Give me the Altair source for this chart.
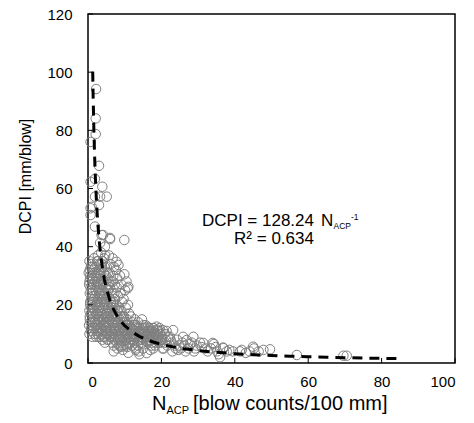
import altair as alt
import pandas as pd

# ---- data ----
nacp = [
    0.4, 0.6, 0.5, 0.8, 0.4, 0.7, 0.5, 0.9, 0.6, 0.4, 0.8, 0.7, 0.9, 1.1, 1.3, 0.3, 1.2, 1.0, 0.7, 0.7, 0.7, 0.5, 1.2, 1.0, 0.7, 0.6, 1.4,
    1.6, 2.0, 1.8, 2.3, 1.7, 2.1, 1.9, 2.4, 1.6, 2.2, 1.8, 2.0, 2.3, 1.7, 2.1, 1.9, 2.4, 2.1, 2.1, 1.9, 1.9, 1.9, 2.2, 1.6, 2.2, 1.9, 2.4, 1.5,
    2.7, 3.1, 2.9, 3.3, 2.6, 3.0, 3.4, 2.8, 3.2, 2.7, 3.1, 2.9, 3.3, 2.6, 3.0, 3.0, 3.0, 3.3, 2.8, 3.2, 2.6, 3.4, 2.9, 3.1, 2.7, 3.3,
    3.6, 4.0, 3.8, 4.3, 3.7, 4.1, 3.9, 4.4, 3.6, 4.2, 3.8, 4.0, 4.3, 3.7, 4.1, 3.9, 3.9, 3.7, 4.1, 4.6, 4.4, 3.6, 4.2, 3.8, 4.4, 4.0, 3.6,
    4.7, 5.1, 4.9, 5.3, 4.6, 5.0, 5.4, 4.8, 5.2, 4.7, 5.1, 4.9, 5.3, 4.6, 5.0, 5.4, 4.8, 5.2, 4.6, 5.0, 5.1,
    6.0, 5.7, 6.1, 5.9, 6.3, 5.6, 6.0, 6.4, 5.8, 6.2, 5.7, 6.1, 5.9, 6.3, 5.6, 6.0, 6.4, 5.8, 6.2, 6.0,
    6.7, 7.1, 6.9, 7.3, 6.6, 7.0, 7.4, 6.8, 7.2, 6.7, 7.1, 6.9, 7.3, 6.6, 7.0, 6.7, 7.3, 6.9, 7.1,
    7.8, 8.3, 7.6, 8.0, 7.8, 8.2, 7.7, 8.1, 7.9, 8.3, 7.6, 8.0, 8.2, 7.8, 8.4, 7.7, 8.1,
    8.7, 9.1, 8.9, 9.3, 8.6, 9.0, 9.4, 8.8, 9.2, 8.7, 9.1, 8.9, 9.3, 8.6, 9.0,
    9.9, 9.9, 10.5, 10.1, 9.7, 10.3, 9.8, 10.2, 9.6, 10.4, 10.0, 9.7, 10.3, 9.9, 10.1,
    10.8, 11.0, 10.9, 11.2, 10.7, 11.1, 10.6, 11.3, 10.9, 11.4, 11.0, 10.7,
    11.7, 12.1, 11.9, 12.3, 11.6, 12.0, 12.4, 11.8, 12.2,
    12.7, 13.1, 12.9, 13.3, 12.6, 13.0, 13.4, 12.8,
    13.7, 14.1, 13.9, 14.3, 13.6, 14.0, 14.4, 13.8,
    14.7, 15.1, 14.9, 15.3, 14.6, 15.0, 15.4, 14.8,
    15.7, 16.1, 15.9, 16.3, 15.6, 16.0, 16.4, 16.0,
    16.7, 17.1, 16.9, 17.3, 16.6, 17.0, 17.4,
    17.7, 18.1, 17.9, 18.3, 17.6, 18.0, 18.4, 17.8,
    18.7, 19.1, 18.9, 19.3, 18.6, 19.0,
    19.7, 20.1, 19.9, 20.4, 19.6, 20.0, 20.3,
    20.8, 21.2, 21.6, 21.0, 21.8, 20.6, 21.4,
    22.3, 23.2, 22.8, 23.6, 22.5, 23.9, 23.0,
    24.3, 24.8, 25.3, 25.7, 24.6, 25.9,
    26.3, 26.9, 27.4, 27.8, 26.6,
    28.7, 28.3, 29.2, 29.6, 28.9,
    30.5, 31.4, 32.0, 32.6, 31.0,
    34.0, 34.3, 33.5, 35.2, 34.8, 35.6,
    36.9, 36.8, 36.0, 37.8, 38.5, 39.5,
    41.4, 41.9, 43.0, 45.0, 45.2, 44.0,
    47.8, 49.6, 46.5,
    56.9, 69.6, 70.5,
]
dcpi = [
    28, 30, 32, 33, 35, 26, 24, 22, 20, 18, 17, 14, 12, 31, 29, 27, 25, 53.7, 50.9, 62.3, 76, 16, 19, 34, 53.2, 21, 23,
    36, 33, 31, 29, 27, 25, 23, 21, 19, 17, 15, 13, 11, 10, 30, 28, 26, 84.1, 78.7, 63.3, 57.2, 46.9, 94.2, 22, 20, 14, 12, 32,
    37, 34, 32, 30, 28, 26, 24, 22, 20, 18, 16, 14, 12, 10, 9, 67.8, 54.3, 41.3, 35, 31, 27, 23, 19, 15, 11, 57.2,
    38, 35, 33, 31, 29, 27, 25, 23, 21, 19, 17, 15, 13, 11, 9, 8, 60.6, 44, 44, 40, 36, 32, 28, 24, 20, 16, 12,
    37, 33, 30, 27, 24, 22, 20, 18, 16, 14, 12, 10, 8, 7, 29, 25, 21, 17, 13, 11, 57.2,
    42.6, 37, 34, 31, 28, 25, 22, 20, 18, 16, 14, 12, 10, 9, 8, 26, 19, 15, 11, 43,
    36, 33, 30, 27, 24, 21, 19, 17, 15, 13, 11, 9, 8, 7, 6, 28, 22, 16, 12,
    34.8, 33.7, 32, 29, 26, 23, 20, 18, 16, 14, 12, 10, 8, 7, 6, 15, 11,
    30, 27, 24, 21, 18, 16, 14, 12, 10, 9, 7, 6, 13, 11, 5.5,
    42.3, 30.5, 28, 25, 22, 19, 16, 14, 12, 10, 8, 6, 13, 11, 9,
    25.7, 26.2, 20, 17, 15, 13, 11, 9, 7, 12, 10, 5.5,
    16, 14, 12, 10, 8, 6, 13, 11, 9,
    15, 13, 11, 9, 7, 5, 12, 10,
    14, 12, 10, 8, 6, 11, 9, 4,
    15, 13, 11, 9, 7, 12, 10, 8,
    13, 11, 9, 7, 12, 10, 8, 3.4,
    12, 10, 8, 6, 11, 9, 7,
    12, 10, 8, 6, 11, 9, 7, 5,
    12.5, 11, 9, 7, 10, 8,
    11, 9, 7, 11.3, 10, 8, 5,
    10, 8, 6, 7, 9, 5, 11,
    9, 11.3, 7, 6, 8, 5, 4,
    8, 6, 5, 7, 4.5, 9,
    6, 7.9, 5, 6.5, 4,
    9, 7, 5, 6, 4,
    7, 6.9, 5, 4, 5.5,
    6.9, 6.5, 5, 4, 5.5, 3,
    5.1, 5.3, 2, 4, 4.5, 4,
    4, 4.5, 3.5, 5.6, 5.0, 4,
    4.5, 4.7, 4,
    2.75, 2.5, 2.5,
]
# second pass over the dense core of the cloud
nacp_core = [
    0.3, 0.5, 0.9, 1.1, 1.3, 1.5, 0.4, 0.8, 1.2, 1.6, 1.0, 0.6, 1.4, 0.2, 1.8, 1.1,
    2.2, 2.5, 2.8, 3.2, 3.6, 2.4, 3.0, 3.5, 2.6, 3.8, 2.9, 3.4, 2.3, 3.7, 2.5, 3.5, 4.2,
    4.4, 4.8, 5.2, 5.6, 6.0, 6.4, 6.8, 4.5, 5.0, 5.5, 6.0, 6.5, 4.3, 5.3, 6.2, 4.8, 5.8, 6.6, 5.4, 4.5,
    7.2, 7.6, 8.0, 8.4, 8.8, 9.2, 9.6, 10.0, 10.4, 10.8, 11.2, 11.6, 7.4, 8.6, 9.5, 10.6, 7.5, 8.4, 9.1,
    7.2, 6.9, 11.5, 8.0, 9.5, 10.5,
    12.5, 13.0, 13.5, 14.0, 14.5, 15.0, 15.5, 16.0, 16.5, 17.0, 17.5, 18.0, 18.5, 19.0, 19.5,
    12.0, 13.2, 14.8, 16.2, 17.8, 18.8, 19.5, 13.0, 15.0, 17.0, 7.0, 11.0, 14.0,
]
dcpi_core = [
    13, 15, 19, 21, 17, 14, 10, 11, 9, 12, 24, 29, 33, 31, 18, 27,
    9, 13, 15, 11, 10, 17, 19, 14, 21, 22, 25, 27, 31, 34, 35, 18, 11,
    9, 12, 10, 13, 9, 11, 10, 15, 17, 19, 15, 14, 21, 23, 21, 26, 27, 18, 31, 33,
    9, 11, 13, 9, 8, 11, 9, 12, 8, 10, 11, 9, 14, 15, 16, 13, 17, 19, 18,
    24, 20, 7, 5, 4.5, 6,
    8, 9.5, 7.5, 10.5, 6.5, 8.5, 10.5, 7.5, 9.5, 11, 8.5, 10.5, 8, 9.5, 7.5,
    11.5, 12.5, 12, 12.5, 12, 11.5, 12, 4.5, 5, 4.5, 4, 3.5, 3,
]

fit_coef = 128.24  # DCPI = 128.24 * N_ACP^-1 (published trend line)
fit_x = [1.28, 1.4, 1.6, 1.8, 2.0, 2.3, 2.6, 3.0, 3.5, 4.0, 4.5, 5.0, 6.0, 7.0, 8.0, 9.0, 10, 12, 14,
         16, 18, 20, 23, 26, 30, 35, 40, 45, 50, 55, 60, 65, 70, 75, 80, 85]

x_ticks = [0, 20, 40, 60, 80, 100]
y_ticks = [0, 20, 40, 60, 80, 100, 120]

W, H = 367, 349
FONT = "Liberation Sans, Arial, sans-serif"

pts = pd.DataFrame({"x": nacp + nacp_core, "y": dcpi + dcpi_core})
fit = pd.DataFrame({"x": fit_x, "y": [fit_coef / v for v in fit_x]})
one = pd.DataFrame({"a": [0]})

xs = alt.Scale(domain=[0, 100], nice=False)
ys = alt.Scale(domain=[0, 120], nice=False)

points = alt.Chart(pts).mark_point(
    shape="circle", filled=False, size=90, color="#808080", strokeWidth=1, opacity=1
).encode(
    x=alt.X("x:Q", scale=xs, axis=alt.Axis(
        values=x_ticks, grid=False, ticks=False, domain=False, title=None,
        labelFont=FONT, labelFontSize=15, labelColor="black", labelPadding=11)),
    y=alt.Y("y:Q", scale=ys, axis=alt.Axis(
        values=y_ticks, grid=False, ticks=False, domain=False,
        labelFont=FONT, labelFontSize=15, labelColor="black", labelPadding=16,
        title="DCPI [mm/blow]", titleFont=FONT, titleFontSize=16,
        titleFontWeight="normal", titleColor="black",
        titleX=-63, titleY=162, titleBaseline="middle")),
)

line = alt.Chart(fit).mark_line(
    color="black", strokeWidth=3, strokeDash=[10, 7]
).encode(x=alt.X("x:Q", scale=xs), y=alt.Y("y:Q", scale=ys))

xt = alt.Chart(pd.DataFrame({"t": x_ticks})).mark_rule(color="black", strokeWidth=1).encode(
    x=alt.X("t:Q", scale=xs), y=alt.value(H), y2=alt.value(H - 5))
yt = alt.Chart(pd.DataFrame({"t": y_ticks})).mark_rule(color="black", strokeWidth=1).encode(
    y=alt.Y("t:Q", scale=ys), x=alt.value(0), x2=alt.value(5))


def txt(s, x, y, size, align="left", baseline="alphabetic"):
    return alt.Chart(one).mark_text(
        font=FONT, fontSize=size, color="black", align=align, baseline=baseline
    ).encode(x=alt.value(x), y=alt.value(y), text=alt.value(s))


eq = [
    txt("DCPI = 128.24", 226, 212, 17, align="right"),
    txt("N", 233, 212, 17),
    txt("ACP", 245.5, 215, 8.5),
    txt("-1", 263, 206, 8.5),
    txt("R\u00b2 = 0.634", 186, 230, 17, align="center"),
]
xtitle = [
    txt("N", 64, 396, 20),
    txt("ACP", 78.5, 400, 11),
    txt("[blow counts/100 mm]", 105, 396, 20),
]

chart = alt.layer(points, line, xt, yt, *eq, *xtitle).properties(
    width=W, height=H,
    autosize=alt.AutoSizeParams(type="none"),
    padding={"left": 88, "top": 14, "right": 19, "bottom": 60},
    background="white",
).configure_view(stroke="black", strokeWidth=1.5)

chart.save("out.html", embed_options={"renderer": "svg", "actions": False})
